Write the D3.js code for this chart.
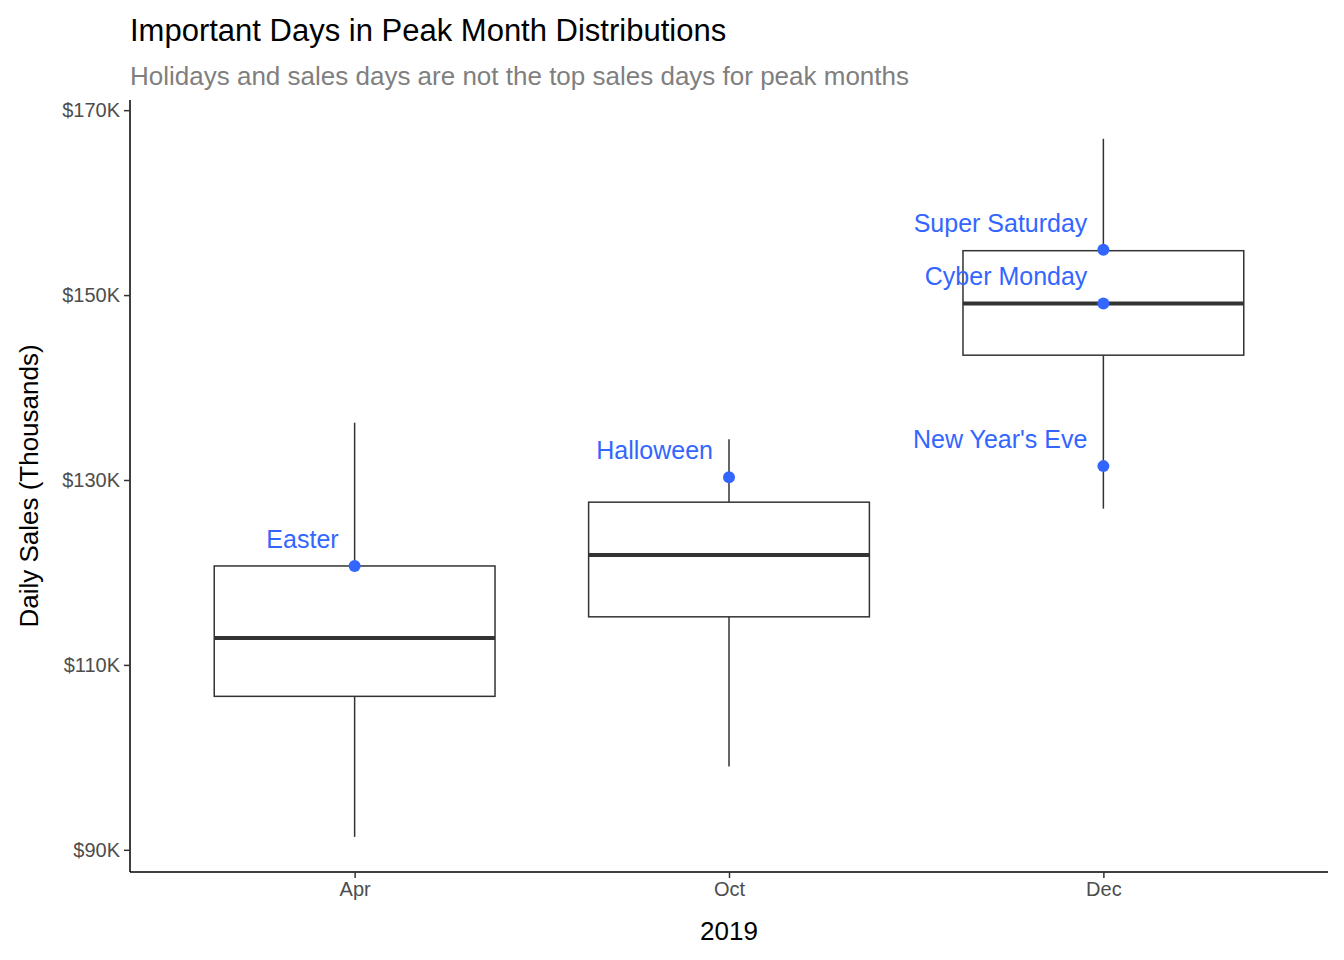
<!DOCTYPE html>
<html lang="en">
<head>
<meta charset="UTF-8">
<title>Important Days in Peak Month Distributions</title>
<script src="https://cdnjs.cloudflare.com/ajax/libs/d3/7.8.5/d3.min.js"></script>
<style>
    body { margin: 0; background: white; font-family: "Liberation Sans", Arial, sans-serif; }
</style>
</head>
<body>
<svg id="chart" width="1344" height="960"></svg>
<script>
    // Data (thousands of dollars)
    const months = ["Apr", "Oct", "Dec"];
    const whiskerLow = [91.4, 99.0, 126.9];
    const q1 = [106.6, 115.2, 143.5];
    const median = [112.9, 121.9, 149.1];
    const q3 = [120.7, 127.6, 154.8];
    const whiskerHigh = [136.2, 134.4, 166.9];

    const eventNames = ["Easter", "Halloween", "Super Saturday", "Cyber Monday", "New Year's Eve"];
    const eventMonths = ["Apr", "Oct", "Dec", "Dec", "Dec"];
    const eventSales = [120.7, 130.3, 154.9, 149.1, 131.5];

    const yTicks = [90, 110, 130, 150, 170];

    const svg = d3.select("#chart");
    const margin = {top: 100, right: 16, bottom: 88, left: 130};
    const width = 1344, height = 960;

    const x = d3.scalePoint()
        .domain(months)
        .range([margin.left, width - margin.right])
        .padding(0.6);
    const y = d3.scaleLinear()
        .domain([87.6, 171.1])
        .range([height - margin.bottom, margin.top]);

    const boxW = x.step() * 0.75;

    // Axes
    const yAxis = svg.append("g")
        .attr("transform", `translate(${margin.left},0)`)
        .call(d3.axisLeft(y).tickValues(yTicks).tickFormat(d => "$" + d + "K").tickSize(6).tickPadding(4));
    const xAxis = svg.append("g")
        .attr("transform", `translate(0,${height - margin.bottom})`)
        .call(d3.axisBottom(x).tickSize(6).tickPadding(4));
    [yAxis, xAxis].forEach(g => {
        g.select(".domain").attr("stroke", "black").attr("stroke-width", 1.5);
        g.selectAll(".tick line").attr("stroke", "#333").attr("stroke-width", 1.5);
        g.selectAll(".tick text").attr("fill", "#4d4d4d").style("font-size", "20px")
            .style("font-family", "Liberation Sans, Arial, sans-serif");
    });
    // keep the axis lines flush with the panel
    yAxis.select(".domain").attr("d", `M0,${margin.top}V${height - margin.bottom}`);
    xAxis.select(".domain").attr("d", `M${margin.left},0H${width - margin.right}`);

    // Boxes
    const boxes = svg.append("g").selectAll("g").data(months).enter().append("g");
    boxes.append("line")
        .attr("x1", d => x(d)).attr("x2", d => x(d))
        .attr("y1", (d, i) => y(whiskerHigh[i])).attr("y2", (d, i) => y(q3[i]))
        .attr("stroke", "#333").attr("stroke-width", 1.5);
    boxes.append("line")
        .attr("x1", d => x(d)).attr("x2", d => x(d))
        .attr("y1", (d, i) => y(q1[i])).attr("y2", (d, i) => y(whiskerLow[i]))
        .attr("stroke", "#333").attr("stroke-width", 1.5);
    boxes.append("rect")
        .attr("x", d => x(d) - boxW / 2).attr("width", boxW)
        .attr("y", (d, i) => y(q3[i])).attr("height", (d, i) => y(q1[i]) - y(q3[i]))
        .attr("fill", "white").attr("stroke", "#333").attr("stroke-width", 1.5);
    boxes.append("line")
        .attr("x1", d => x(d) - boxW / 2).attr("x2", d => x(d) + boxW / 2)
        .attr("y1", (d, i) => y(median[i])).attr("y2", (d, i) => y(median[i]))
        .attr("stroke", "#333").attr("stroke-width", 4);

    // Event points and labels
    const ev = svg.append("g").selectAll("g").data(eventNames).enter().append("g");
    ev.append("circle")
        .attr("cx", (d, i) => x(eventMonths[i])).attr("cy", (d, i) => y(eventSales[i]))
        .attr("r", 6).attr("fill", "#3366FF");
    ev.append("text")
        .attr("x", (d, i) => x(eventMonths[i]) - 16).attr("y", (d, i) => y(eventSales[i]) - 18)
        .attr("text-anchor", "end").attr("fill", "#3366FF").style("font-size", "25px")
        .text(d => d);

    // Titles
    svg.append("text").attr("x", 130).attr("y", 41).style("font-size", "31px").attr("fill", "black")
        .text("Important Days in Peak Month Distributions");
    svg.append("text").attr("x", 130).attr("y", 85).style("font-size", "26px").attr("fill", "#7f7f7f")
        .text("Holidays and sales days are not the top sales days for peak months");
    svg.append("text").attr("x", x("Oct")).attr("y", 940).attr("text-anchor", "middle")
        .style("font-size", "26px").text("2019");
    svg.append("text").attr("transform", `translate(38,${(margin.top + height - margin.bottom) / 2}) rotate(-90)`)
        .attr("text-anchor", "middle").style("font-size", "26px").text("Daily Sales (Thousands)");
</script>
</body>
</html>
